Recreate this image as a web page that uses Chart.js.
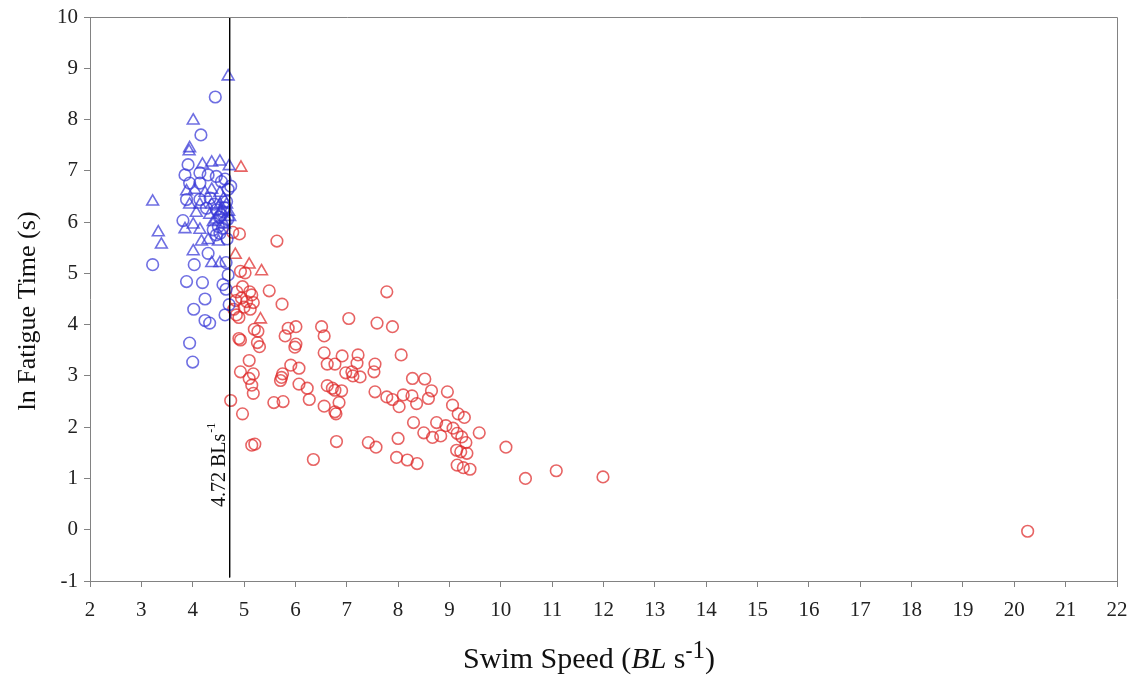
<!DOCTYPE html>
<html>
<head>
<meta charset="utf-8">
<script src="https://cdn.jsdelivr.net/npm/chart.js@4.4.1/dist/chart.umd.min.js"></script>
<style>
html,body{margin:0;padding:0;background:#fff;}
#wrap{width:1130px;height:675px;position:relative;}
</style>
</head>
<body>
<div id="wrap"><canvas id="c" width="1130" height="675"></canvas></div>
<script>
// ---- Data ----
const blueCircleX = [4.44,4.16,3.91,3.85,4.14,4.30,4.46,4.63,3.94,4.14,4.56,4.69,3.88,4.14,4.34,4.66,4.27,4.46,4.56,4.63,4.50,4.53,4.40,4.46,3.81,4.30,4.67,4.65,3.22,4.03,4.69,3.88,4.19,4.59,4.65,4.24,4.02,4.71,4.63,4.24,4.33,3.94,4.00,4.74,4.60,4.68,4.52,4.58,4.42,4.62];
const blueCircleY = [8.44,7.70,7.12,6.92,6.96,6.92,6.89,6.84,6.76,6.76,6.79,6.64,6.44,6.44,6.47,6.40,6.27,6.24,6.14,6.01,5.91,5.78,5.85,5.75,6.03,5.39,5.67,5.21,5.17,5.17,4.97,4.84,4.82,4.78,4.69,4.50,4.30,4.39,4.19,4.08,4.03,3.64,3.27,6.70,6.20,6.05,6.10,5.88,6.35,6.28];

const blueTriX = [4.69,4.01,3.94,3.93,4.19,4.37,4.53,4.71,3.88,4.04,4.24,4.37,4.53,3.22,3.94,4.14,4.37,4.53,4.66,4.07,4.33,3.85,4.01,4.14,3.33,3.39,4.17,4.30,4.01,4.50,4.37,4.53,4.60,4.70,4.45,4.62,4.72,4.55,4.40];
const blueTriY = [8.84,7.98,7.44,7.38,7.12,7.16,7.18,7.09,6.60,6.63,6.57,6.63,6.57,6.40,6.34,6.34,6.34,6.34,6.34,6.18,6.14,5.86,5.95,5.85,5.80,5.56,5.62,5.65,5.43,5.62,5.20,5.20,6.45,6.20,6.05,5.95,6.10,6.22,6.00];

const redCircleX = [4.78,4.91,5.64,4.93,5.02,4.97,4.86,5.11,5.15,4.95,5.18,5.00,4.85,4.84,4.80,4.90,5.49,5.74,7.78,7.04,7.59,7.89,6.51,6.01,5.86,5.20,6.56,5.80,4.90,5.26,6.01,5.99,6.56,6.91,7.22,8.06,5.10,5.91,6.07,6.62,6.77,7.20,7.55,4.93,5.18,5.10,5.75,5.73,5.71,6.98,7.10,7.12,7.26,7.53,8.28,8.52,5.15,6.07,6.23,6.62,6.72,6.77,6.90,5.18,6.27,4.74,5.58,5.76,7.55,7.78,7.89,8.10,8.27,8.36,8.59,8.65,8.96,6.56,6.85,8.02,9.06,6.77,6.79,4.97,8.30,9.17,9.29,8.75,8.93,9.07,8.50,8.67,8.83,9.15,9.24,9.32,9.58,5.15,5.21,6.80,7.42,7.57,8.00,10.10,9.14,9.22,9.34,6.35,7.97,8.18,8.37,9.15,9.27,9.40,10.48,11.08,11.99,20.26,5.27,4.93,5.30,5.05,5.12];
const redCircleY = [5.80,5.77,5.63,5.04,5.01,4.74,4.64,4.64,4.58,4.52,4.43,4.34,4.19,4.47,4.30,4.14,4.66,4.40,4.64,4.12,4.03,3.96,3.96,3.96,3.93,3.91,3.78,3.78,3.73,3.65,3.62,3.56,3.45,3.39,3.41,3.41,3.30,3.21,3.15,3.23,3.23,3.25,3.23,3.08,3.04,2.95,3.04,2.97,2.91,3.06,3.08,3.00,2.98,3.08,2.95,2.94,2.82,2.84,2.76,2.81,2.76,2.72,2.71,2.66,2.54,2.52,2.48,2.50,2.69,2.59,2.54,2.63,2.61,2.46,2.56,2.71,2.69,2.41,2.48,2.40,2.43,2.30,2.26,2.26,2.09,2.26,2.19,2.09,2.03,1.98,1.89,1.80,1.83,1.88,1.81,1.70,1.89,1.65,1.67,1.72,1.70,1.61,1.78,1.61,1.55,1.52,1.49,1.37,1.41,1.36,1.29,1.26,1.21,1.18,1.00,1.15,1.03,-0.03,3.87,3.70,3.57,4.45,4.30];

const redTriX = [4.94,4.83,5.10,5.34,5.32];
const redTriY = [7.06,5.36,5.17,5.04,4.10];

const thresholdX = 4.72;
const thresholdLabel = "4.72 BLs";
const xTicks = [2,3,4,5,6,7,8,9,10,11,12,13,14,15,16,17,18,19,20,21,22];
const yTicks = [-1,0,1,2,3,4,5,6,7,8,9,10];
const yTitle = "ln Fatigue Time (s)";

const zip = (xs, ys) => xs.map((x, i) => ({x: x, y: ys[i]}));

const BLUE = 'rgba(55,55,215,0.72)';
const RED = 'rgba(222,40,40,0.72)';
const GRAY = 'rgb(130,130,130)';
const SERIF = '"Liberation Serif", "DejaVu Serif", serif';

const decor = {
  id: 'decor',
  afterDraw(chart) {
    const ctx = chart.ctx;
    const a = chart.chartArea;
    const xs = chart.scales.x;
    ctx.save();
    // frame
    ctx.strokeStyle = GRAY;
    ctx.lineWidth = 1;
    ctx.beginPath();
    ctx.moveTo(Math.round(a.left)+0.5, Math.round(a.top)+0.5);
    ctx.lineTo(Math.round(a.right)+0.5, Math.round(a.top)+0.5);
    ctx.lineTo(Math.round(a.right)+0.5, Math.round(a.bottom)+0.5);
    ctx.stroke();

    // y title
    ctx.fillStyle = '#111';
    ctx.font = '26px ' + SERIF;
    ctx.textAlign = 'center';
    ctx.textBaseline = 'middle';
    ctx.translate(28, 311);
    ctx.rotate(-Math.PI/2);
    ctx.fillText(yTitle, 0, 0);
    ctx.setTransform(1,0,0,1,0,0);

    // x title with italic BL and superscript
    const parts = [
      {t: 'Swim Speed (', f: '30px ' + SERIF, dy: 0},
      {t: 'BL', f: 'italic 30px ' + SERIF, dy: 0},
      {t: ' s', f: '30px ' + SERIF, dy: 0},
      {t: '-', f: 'bold 21px ' + SERIF, dy: -11},
      {t: '1', f: '25px ' + SERIF, dy: -10},
      {t: ')', f: '30px ' + SERIF, dy: 0}
    ];
    let total = 0;
    parts.forEach(p => { ctx.font = p.f; p.w = ctx.measureText(p.t).width; total += p.w; });
    let cx = 589 - total/2;
    ctx.textAlign = 'left';
    ctx.textBaseline = 'alphabetic';
    parts.forEach(p => { ctx.font = p.f; ctx.fillText(p.t, cx, 668 + p.dy); cx += p.w; });

    // threshold label (rotated)
    const lx = xs.getPixelForValue(thresholdX) - 5;
    const ly = 507;
    ctx.translate(lx, ly);
    ctx.rotate(-Math.PI/2);
    ctx.font = '20px ' + SERIF;
    ctx.fillText(thresholdLabel, 0, 0);
    const w = ctx.measureText(thresholdLabel).width;
    ctx.font = '12px ' + SERIF;
    ctx.fillText('-1', w + 1, -10);
    ctx.restore();
  }
};

new Chart(document.getElementById('c'), {
  type: 'scatter',
  data: {
    datasets: [
      {label: 'line', type: 'line', data: [{x: thresholdX, y: 10}, {x: thresholdX, y: -0.93}],
       borderColor: '#000', borderWidth: 1, pointRadius: 0, fill: false, order: 0},
      {label: 'blue circles', data: zip(blueCircleX, blueCircleY), pointStyle: 'circle',
       pointRadius: 5.8, borderColor: BLUE, backgroundColor: 'rgba(0,0,0,0)', borderWidth: 1.6},
      {label: 'blue triangles', data: zip(blueTriX, blueTriY), pointStyle: 'triangle',
       pointRadius: 6.8, borderColor: BLUE, backgroundColor: 'rgba(0,0,0,0)', borderWidth: 1.6},
      {label: 'red circles', data: zip(redCircleX, redCircleY), pointStyle: 'circle',
       pointRadius: 5.8, borderColor: RED, backgroundColor: 'rgba(0,0,0,0)', borderWidth: 1.6},
      {label: 'red triangles', data: zip(redTriX, redTriY), pointStyle: 'triangle',
       pointRadius: 6.8, borderColor: RED, backgroundColor: 'rgba(0,0,0,0)', borderWidth: 1.6}
    ]
  },
  options: {
    responsive: false,
    animation: false,
    events: [],
    layout: {padding: {top: 17, right: 13, left: 0, bottom: 0}},
    plugins: {legend: {display: false}, tooltip: {enabled: false}},
    scales: {
      x: {
        type: 'linear', min: 2, max: 22,
        afterBuildTicks: s => { s.ticks = xTicks.map(v => ({value: v})); },
        afterFit: s => { s.height = 94; s.paddingLeft = 0; s.paddingRight = 0; },
        grid: {drawOnChartArea: false, drawTicks: true, tickLength: 6, color: GRAY},
        border: {color: GRAY, width: 1},
        ticks: {color: '#222', font: {family: SERIF, size: 21}, padding: 11, maxRotation: 0, autoSkip: false}
      },
      y: {
        type: 'linear', min: -1, max: 10,
        afterBuildTicks: s => { s.ticks = yTicks.map(v => ({value: v})); },
        afterFit: s => { s.width = 90; s.paddingTop = 0; s.paddingBottom = 0; },
        grid: {drawOnChartArea: false, drawTicks: true, tickLength: 6, color: GRAY},
        border: {color: GRAY, width: 1},
        ticks: {color: '#222', font: {family: SERIF, size: 21}, padding: 6, autoSkip: false}
      }
    }
  },
  plugins: [decor]
});
</script>
</body>
</html>
